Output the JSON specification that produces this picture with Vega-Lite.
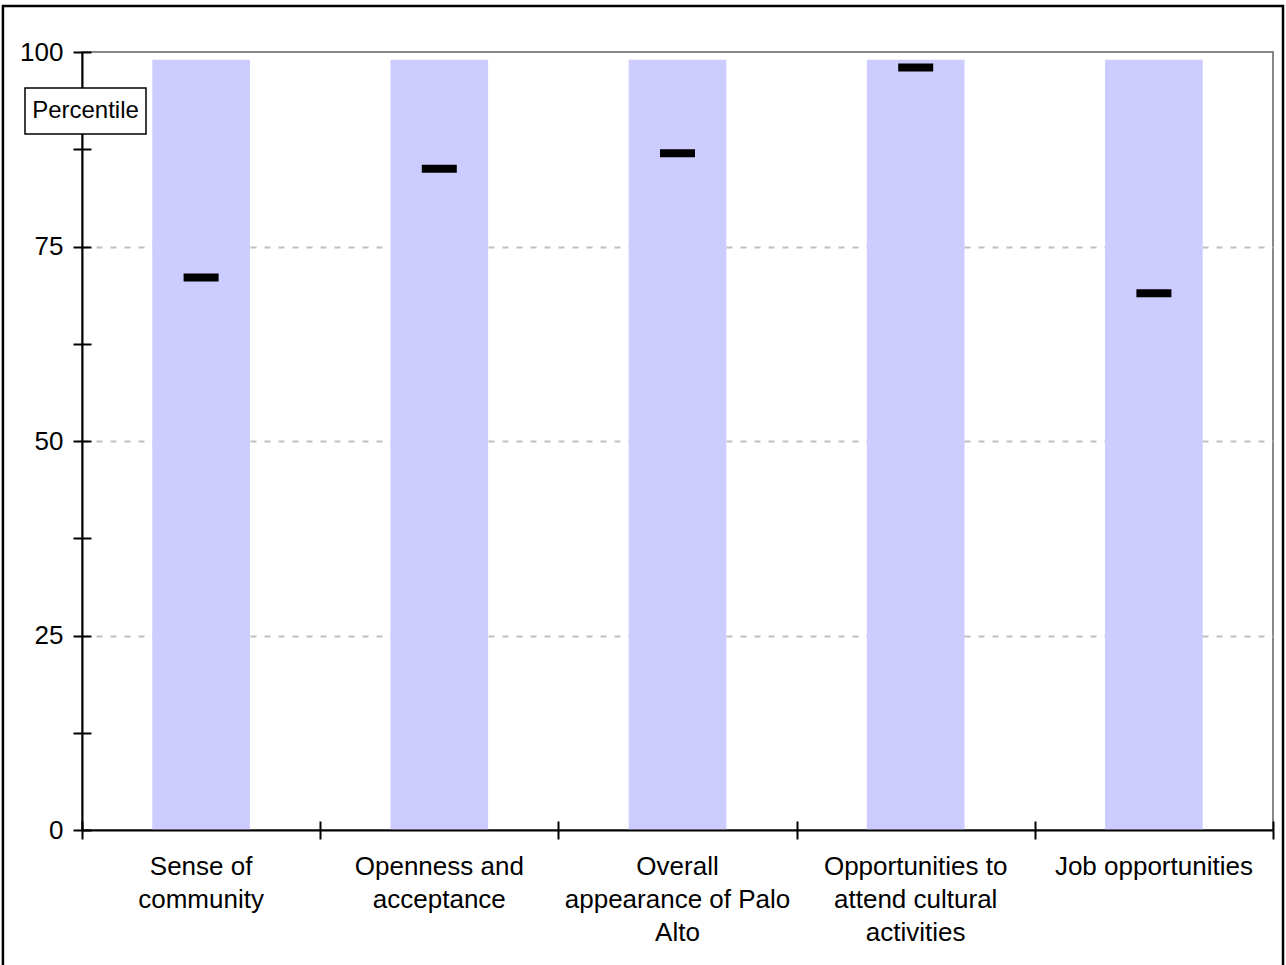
{
  "$schema": "https://vega.github.io/schema/vega-lite/v6.json",
  "width": 1191,
  "height": 778,
  "autosize": "none",
  "padding": {"left": 82, "top": 52, "right": 13, "bottom": 135},
  "background": "white",
  "config": {
    "font": "Liberation Sans",
    "view": {"stroke": "#888888", "strokeWidth": 2},
    "axis": {"labelFont": "Liberation Sans", "labelColor": "black"}
  },
  "data": {
    "values": [
      {"cat": "Sense of community", "top": 99, "value": 71},
      {"cat": "Openness and acceptance", "top": 99, "value": 85},
      {"cat": "Overall appearance of Palo Alto", "top": 99, "value": 87},
      {"cat": "Opportunities to attend cultural activities", "top": 99, "value": 98},
      {"cat": "Job opportunities", "top": 99, "value": 69}
    ]
  },
  "resolve": {
    "scale": {"x": "independent"},
    "axis": {"x": "independent", "y": "independent"}
  },
  "layer": [
    {
      "mark": {"type": "bar", "color": "#ccccff", "width": {"band": 0.41}},
      "encoding": {
        "x": {
          "field": "cat", "type": "nominal", "sort": null,
          "scale": {"paddingInner": 0, "paddingOuter": 0},
          "axis": {
            "orient": "bottom", "title": null, "labelAngle": 0, "ticks": false, "tickSize": 0,
            "domain": false, "grid": false, "labelFontSize": 26, "labelLineHeight": 33,
            "labelPadding": 23, "labelLimit": 400,
            "labelExpr": "datum.value == 'Sense of community' ? ['Sense of', 'community'] : datum.value == 'Openness and acceptance' ? ['Openness and', 'acceptance'] : datum.value == 'Overall appearance of Palo Alto' ? ['Overall', 'appearance of Palo', 'Alto'] : datum.value == 'Opportunities to attend cultural activities' ? ['Opportunities to', 'attend cultural', 'activities'] : datum.label"
          }
        },
        "y": {
          "field": "top", "type": "quantitative",
          "scale": {"domain": [0, 100], "nice": false},
          "axis": {
            "orient": "left", "title": null, "grid": false,
            "values": [0, 12.5, 25, 37.5, 50, 62.5, 75, 87.5, 100],
            "labelExpr": "datum.value % 25 == 0 ? datum.label : ''",
            "tickSize": 9, "tickColor": "black", "tickWidth": 2,
            "domainColor": "black", "domainWidth": 2,
            "labelFontSize": 26, "labelPadding": 10, "zindex": 0
          }
        }
      }
    },
    {
      "mark": {"type": "tick", "color": "black", "thickness": 8, "size": 35, "opacity": 1},
      "encoding": {
        "x": {
          "field": "cat", "type": "nominal", "sort": null,
          "scale": {"paddingInner": 0, "paddingOuter": 0},
          "axis": null
        },
        "y": {
          "field": "value", "type": "quantitative",
          "scale": {"domain": [0, 100], "nice": false},
          "axis": {
            "orient": "left", "title": null, "values": [25, 50, 75],
            "grid": true, "gridDash": [6, 8], "gridColor": "#c0c0c0", "gridWidth": 2,
            "ticks": false, "labels": false, "domain": false, "zindex": 0
          }
        }
      }
    },
    {
      "data": {"values": [{"label": "Percentile"}]},
      "mark": {"type": "rect", "fill": "white", "stroke": "black", "strokeWidth": 1.5},
      "encoding": {
        "x": {
          "datum": -0.2393, "type": "quantitative",
          "scale": {"domain": [0, 5], "nice": false},
          "axis": {
            "orient": "bottom", "title": null, "values": [0, 1, 2, 3, 4, 5],
            "labels": false, "grid": false, "tickSize": 9, "tickColor": "black", "tickWidth": 2,
            "domainColor": "black", "domainWidth": 2, "zindex": 1
          }
        },
        "x2": {"datum": 0.2687},
        "y": {
          "datum": 95.37, "type": "quantitative",
          "scale": {"domain": [0, 100], "nice": false},
          "axis": {
            "orient": "left", "title": null, "offset": -9,
            "values": [0, 12.5, 25, 37.5, 50, 62.5, 75, 87.5, 100],
            "labels": false, "grid": false, "domain": false,
            "tickSize": 9, "tickColor": "black", "tickWidth": 2, "zindex": 1
          }
        },
        "y2": {"datum": 89.46}
      }
    },
    {
      "data": {"values": [{"label": "Percentile"}]},
      "mark": {"type": "text", "fontSize": 24, "font": "Liberation Sans", "fill": "black", "align": "center", "baseline": "middle"},
      "encoding": {
        "text": {"field": "label"},
        "x": {
          "datum": 0.0147, "type": "quantitative",
          "scale": {"domain": [0, 5], "nice": false},
          "axis": {
            "orient": "bottom", "title": null, "offset": -9, "values": [0, 1, 2, 3, 4, 5],
            "labels": false, "grid": false, "domain": false,
            "tickSize": 9, "tickColor": "black", "tickWidth": 2, "zindex": 1
          }
        },
        "y": {
          "datum": 92.4, "type": "quantitative",
          "scale": {"domain": [0, 100], "nice": false},
          "axis": null
        }
      }
    },
    {
      "data": {"values": [{"label": "frame"}]},
      "mark": {"type": "rect", "fill": null, "fillOpacity": 0, "stroke": "black", "strokeWidth": 2.5, "clip": false},
      "encoding": {
        "x": {"datum": -0.332, "type": "quantitative", "scale": {"domain": [0, 5], "nice": false}, "axis": null},
        "x2": {"datum": 5.042},
        "y": {"datum": 105.9, "type": "quantitative", "scale": {"domain": [0, 100], "nice": false}, "axis": null},
        "y2": {"datum": -20}
      }
    }
  ]
}
